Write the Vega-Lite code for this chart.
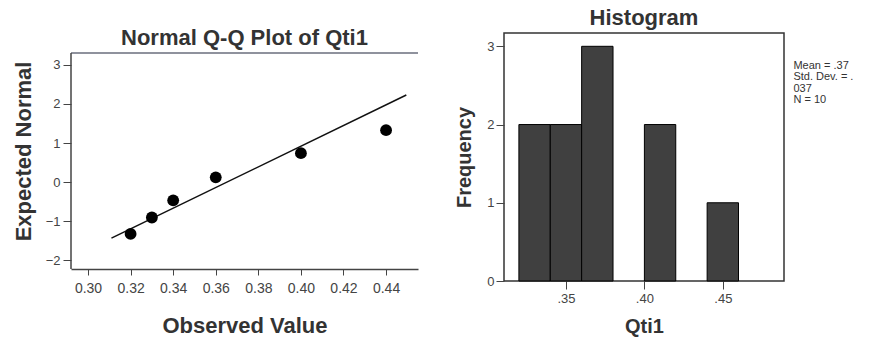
{
  "$schema": "https://vega.github.io/schema/vega-lite/v6.json",
  "padding": {"left": 12, "top": 6, "right": 0, "bottom": 0},
  "background": "white",
  "spacing": 35,
  "config": {
    "font": "Liberation Sans",
    "view": {"stroke": null},
    "axis": {"labelFont": "Liberation Sans", "titleFont": "Liberation Sans", "labelColor": "#444", "titleColor": "#333", "domainColor": "#444", "tickColor": "#444", "grid": false, "labelFontSize": 13, "titleFontWeight": "bold"},
    "title": {"font": "Liberation Sans", "fontSize": 22, "fontWeight": "bold", "color": "#333", "offset": 7}
  },
  "datasets": {
    "qq": [
      {"observed": 0.32, "expected": -1.33},
      {"observed": 0.33, "expected": -0.91},
      {"observed": 0.34, "expected": -0.47},
      {"observed": 0.36, "expected": 0.12},
      {"observed": 0.40, "expected": 0.74},
      {"observed": 0.44, "expected": 1.33}
    ],
    "fit": [
      {"observed": 0.311, "expected": -1.44},
      {"observed": 0.4495, "expected": 2.23}
    ],
    "hist": [
      {"bin_start": 0.32, "bin_end": 0.34, "count": 2},
      {"bin_start": 0.34, "bin_end": 0.36, "count": 2},
      {"bin_start": 0.36, "bin_end": 0.38, "count": 3},
      {"bin_start": 0.40, "bin_end": 0.42, "count": 2},
      {"bin_start": 0.44, "bin_end": 0.46, "count": 1}
    ],
    "stats": [
      {"label": "Mean = .37\nStd. Dev. = .\n037\nN = 10"}
    ],
    "one": [{}]
  },
  "hconcat": [
    {
      "title": {"text": "Normal Q-Q Plot of Qti1", "offset": -17},
      "width": 347,
      "height": 236,
      "layer": [
        {
          "data": {"name": "one"},
          "mark": {"type": "rule", "color": "#6a6e7c", "strokeWidth": 1.5},
          "encoding": {"y": {"datum": 3.31, "type": "quantitative"}}
        },
        {
          "data": {"name": "one"},
          "mark": {"type": "rule", "color": "#444", "strokeWidth": 1.5},
          "encoding": {
            "x": {"datum": 0.292, "type": "quantitative"},
            "y": {"datum": -2.23, "type": "quantitative"},
            "y2": {"datum": 3.31}
          }
        },
        {
          "data": {"name": "fit"},
          "mark": {"type": "line", "color": "#111", "strokeWidth": 1.5},
          "encoding": {
            "x": {"field": "observed", "type": "quantitative"},
            "y": {"field": "expected", "type": "quantitative"}
          }
        },
        {
          "data": {"name": "qq"},
          "mark": {"type": "point", "filled": true, "color": "#000", "size": 140, "opacity": 1},
          "encoding": {
            "x": {"field": "observed", "type": "quantitative", "title": "Observed Value",
              "scale": {"domain": [0.292, 0.455], "nice": false, "zero": false},
              "axis": {"values": [0.30, 0.32, 0.34, 0.36, 0.38, 0.40, 0.42, 0.44], "format": ".2f", "labelFontSize": 14, "titleFontSize": 22, "titlePadding": 20, "tickSize": 6, "labelPadding": 6, "domain": true, "domainColor": "#444", "domainWidth": 1.5}},
            "y": {"field": "expected", "type": "quantitative", "title": "Expected Normal",
              "scale": {"domain": [-2.23, 3.82], "nice": false, "zero": false},
              "axis": {"values": [-2, -1, 0, 1, 2, 3], "format": "d", "titleFontSize": 22, "titlePadding": 10, "tickSize": 8, "labelPadding": 3, "domain": false}}
          }
        }
      ]
    },
    {
      "title": {"text": "Histogram", "offset": 3},
      "width": 280,
      "height": 248,
      "view": {"stroke": "#333", "strokeWidth": 1.5},
      "layer": [
        {
          "data": {"name": "hist"},
          "mark": {"type": "bar", "color": "#404040", "stroke": "#000", "strokeWidth": 1},
          "encoding": {
            "x": {"field": "bin_start", "type": "quantitative", "title": "Qti1",
              "scale": {"domain": [0.3105, 0.489], "nice": false, "zero": false},
              "axis": {"values": [0.35, 0.40, 0.45], "labelExpr": "substring(format(datum.value, '.2f'), 1)", "titleFontSize": 20, "titlePadding": 11, "tickSize": 8, "labelPadding": 3, "domain": false}},
            "x2": {"field": "bin_end"},
            "y": {"field": "count", "type": "quantitative", "title": "Frequency",
              "scale": {"domain": [0, 3.17], "nice": false},
              "axis": {"values": [0, 1, 2, 3], "format": "d", "titleFontSize": 20, "titlePadding": 12, "tickSize": 8, "domain": false}},
            "y2": {"datum": 0}
          }
        },
        {
          "data": {"name": "stats"},
          "mark": {"type": "text", "align": "left", "baseline": "top", "fontSize": 11, "lineHeight": 11.5, "color": "#333", "lineBreak": "\n"},
          "encoding": {
            "x": {"datum": 0.495, "type": "quantitative"},
            "y": {"datum": 2.83, "type": "quantitative"},
            "text": {"field": "label"}
          }
        }
      ]
    }
  ]
}
